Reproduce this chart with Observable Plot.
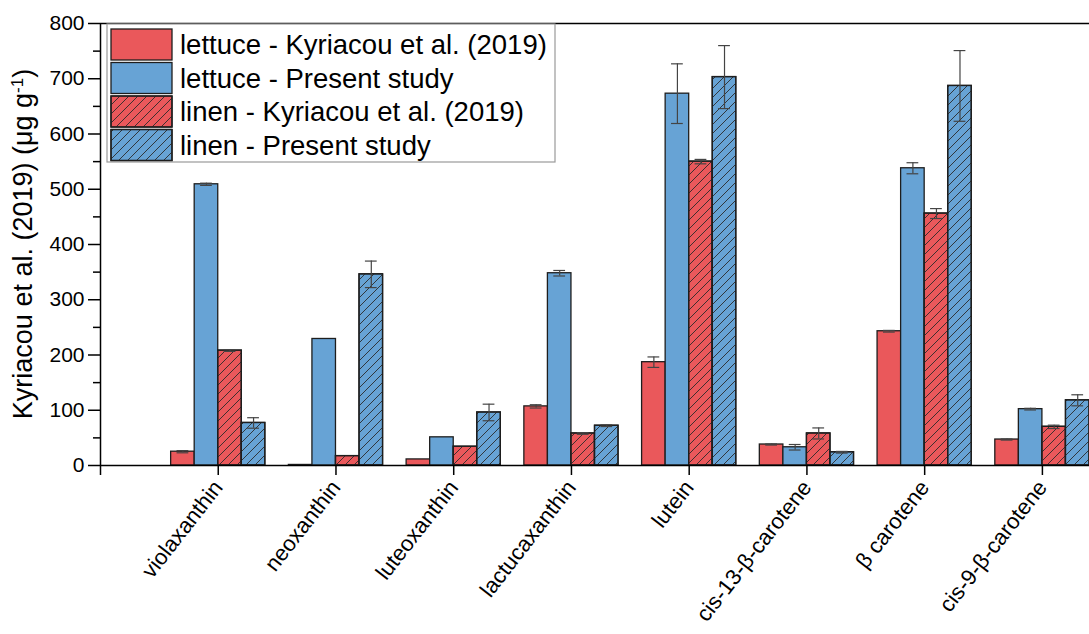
<!DOCTYPE html>
<html><head><meta charset="utf-8">
<script src="https://cdn.jsdelivr.net/npm/d3@7"></script>
<script src="https://cdn.jsdelivr.net/npm/@observablehq/plot@0.6"></script>
<style>
body{margin:0;background:#fff}
#chart{position:relative;width:1089px;height:634px;overflow:hidden}
</style>
</head><body><div id="chart"></div>
<script>
// ---- data ----
const categories = ["violaxanthin", "neoxanthin", "luteoxanthin", "lactucaxanthin", "lutein", "cis-13-β-carotene", "β carotene", "cis-9-β-carotene"];
const seriesNames = ["lettuce - Kyriacou et al. (2019)", "lettuce - Present study", "linen - Kyriacou et al. (2019)", "linen - Present study"];
const lettuceKyriacou    = [25, 1, 11, 107, 187, 38, 243, 47];
const lettuceKyriacouErr = [2, 0, 0, 3, 9.5, 1, 1.5, 1];
const lettucePresent     = [509, 229, 51, 348, 673, 33, 538, 102];
const lettucePresentErr  = [2, 0, 0, 5, 54, 5, 10, 1.5];
const linenKyriacou      = [208, 17, 34, 58, 550, 58, 456, 70];
const linenKyriacouErr   = [1.5, 0, 0, 1.5, 4, 10, 9, 3];
const linenPresent       = [77, 346, 96, 72, 703, 24, 687, 118];
const linenPresentErr    = [9.5, 24, 15, 1.5, 57, 1.5, 64, 10];
const yTicks = [0, 100, 200, 300, 400, 500, 600, 700, 800];
const yMinorTicks = [50, 150, 250, 350, 450, 550, 650, 750];
const yTitle = "Kyriacou et al. (2019) (μg g";
const yTitleSup = "-1";

const RED = "#ea585b", BLUE = "#67a3d5";
const FONT = "'Liberation Sans', Arial, sans-serif";
const seriesValues = [lettuceKyriacou, lettucePresent, linenKyriacou, linenPresent];
const seriesErrs = [lettuceKyriacouErr, lettucePresentErr, linenKyriacouErr, linenPresentErr];
const seriesColor = [RED, BLUE, RED, BLUE];
const seriesHatch = [false, false, true, true];

const barW = 0.2; // fraction of category slot
const rowsBySeries = seriesValues.map((vals, k) => vals.map((v, i) => {
  const x1 = (i + 1) - 2 * barW + k * barW;
  return {cat: categories[i], series: seriesNames[k], x1, x2: x1 + barW, xc: x1 + barW / 2, value: v, err: seriesErrs[k][i]};
}));
const allRows = rowsBySeries.flat();
const errRows = allRows.filter(d => d.err > 0);

const marks = [];
rowsBySeries.forEach((rows, k) => {
  marks.push(Plot.rect(rows, {x1: "x1", x2: "x2", y1: 0, y2: "value", fill: seriesColor[k], stroke: "#1e1e1e", strokeWidth: 1.3}));
  if (seriesHatch[k]) marks.push(Plot.rect(rows, {x1: "x1", x2: "x2", y1: 0, y2: "value", fill: "url(#hatch)", stroke: "#1e1e1e", strokeWidth: 1.3}));
});
marks.push(
  Plot.ruleX(errRows, {x: "xc", y1: d => d.value - d.err, y2: d => d.value + d.err, stroke: "#444", strokeWidth: 1.2}),
  Plot.ruleY(errRows, {y: d => d.value + d.err, x1: d => d.xc - 0.05, x2: d => d.xc + 0.05, stroke: "#444", strokeWidth: 1.2}),
  Plot.ruleY(errRows, {y: d => d.value - d.err, x1: d => d.xc - 0.05, x2: d => d.xc + 0.05, stroke: "#444", strokeWidth: 1.2}),
  Plot.ruleY([800], {stroke: "#000", strokeWidth: 1.5}),
  Plot.ruleY([0], {stroke: "#000", strokeWidth: 1.5}),
  Plot.ruleX([0], {y1: 0, y2: 800, stroke: "#000", strokeWidth: 1.5}),
  Plot.axisY({ticks: yTicks, tickSize: 12, tickPadding: 4, label: null, strokeWidth: 1.5}),
  Plot.axisY({ticks: yMinorTicks, tickSize: 7, tickFormat: () => "", label: null, strokeWidth: 1.5}),
  Plot.axisX({ticks: d3.range(0, 9), tickSize: 10, tickPadding: 8, tickRotate: -52,
    tickFormat: d => d === 0 ? "" : categories[d - 1], label: null, strokeWidth: 1.5})
);

const svgNode = Plot.plot({
  width: 1089, height: 634,
  marginLeft: 100, marginRight: 0, marginTop: 23, marginBottom: 169,
  style: {fontFamily: FONT, fontSize: "21px", color: "#000", background: "#fff", overflow: "hidden"},
  x: {type: "linear", domain: [0, 8.40], axis: null},
  y: {domain: [0, 800], axis: null},
  marks
});
document.getElementById("chart").appendChild(svgNode);

const svg = d3.select(svgNode);
// enlarge all axis tick label text (Plot's own texts)
svg.selectAll("text").each(function() {
  const inX = this.closest("g[aria-label='x-axis tick label']");
  d3.select(this).style("font-size", inX ? "22px" : "21px");
});

const defs = svg.insert("defs", ":first-child");
const pat = defs.append("pattern").attr("id", "hatch").attr("patternUnits", "userSpaceOnUse").attr("width", 9).attr("height", 9);
pat.append("path").attr("d", "M-1,1 L1,-1 M0,9 L9,0 M8,10 L10,8").attr("stroke", "#2a2a2a").attr("stroke-width", 0.9).attr("fill", "none");

// y title
const yt = svg.append("text").attr("transform", "translate(32,244) rotate(-90)").attr("text-anchor", "middle")
  .attr("font-size", 27).attr("font-family", FONT).attr("fill", "#000");
yt.append("tspan").text(yTitle);
yt.append("tspan").attr("baseline-shift", "super").attr("font-size", 17).text(yTitleSup);
yt.append("tspan").text(")");

// legend
const lg = svg.append("g").attr("font-family", FONT).attr("font-size", 27.5).attr("text-anchor", "start");
lg.append("rect").attr("x", 107).attr("y", 24).attr("width", 448).attr("height", 138).attr("fill", "#fff").attr("stroke", "#9a9a9a").attr("stroke-width", 1.2);
seriesNames.forEach((name, k) => {
  const y = 29 + k * 33.5;
  lg.append("rect").attr("x", 111).attr("y", y).attr("width", 61).attr("height", 31).attr("fill", seriesColor[k]).attr("stroke", "#1e1e1e").attr("stroke-width", 1.3);
  if (seriesHatch[k]) lg.append("rect").attr("x", 111).attr("y", y).attr("width", 61).attr("height", 31).attr("fill", "url(#hatch)").attr("stroke", "#1e1e1e").attr("stroke-width", 1.3);
  lg.append("text").attr("x", 180).attr("y", y + 15.5).attr("dy", "0.35em").attr("text-anchor", "start").attr("fill", "#000").text(name);
});
</script>
</body></html>
